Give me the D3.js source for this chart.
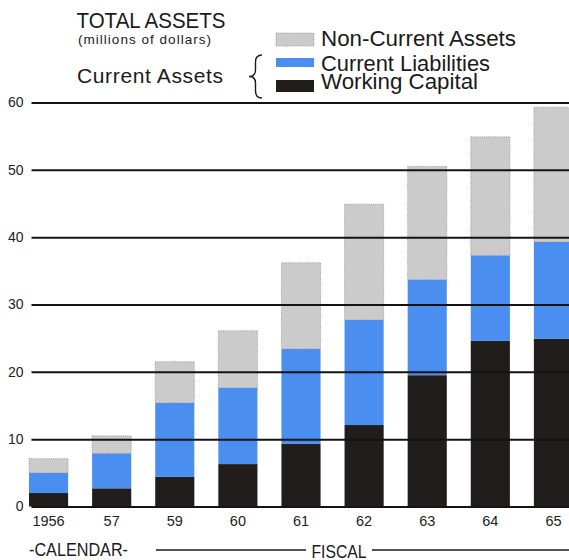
<!DOCTYPE html>
<html>
<head>
<meta charset="utf-8">
<script src="https://cdn.jsdelivr.net/npm/d3@7"></script>
<style>
  html, body { margin: 0; padding: 0; background: #fff; }
  svg { display: block; font-family: "Liberation Sans", Arial, Helvetica, sans-serif; }
</style>
</head>
<body>
<svg id="chart" width="569" height="560"></svg>
<script>
// Years shown along the bottom (1956–57 calendar, 59–65 fiscal)
const years = ["1956", "57", "59", "60", "61", "62", "63", "64", "65"];
// Millions of dollars, stacked from the baseline up
const workingCapital     = [2.0, 2.7, 4.4, 6.3, 9.3, 12.1, 19.5, 24.6, 24.9];
const currentLiabilities = [3.0, 5.2, 11.0, 11.3, 14.1, 15.6, 14.2, 12.7, 14.4];
const nonCurrentAssets   = [2.1, 2.6, 6.1, 8.5, 12.8, 17.2, 16.8, 17.6, 20.0];
const yTicks = [0, 10, 20, 30, 40, 50, 60];

const seriesKeys = ["workingCapital", "currentLiabilities", "nonCurrentAssets"];
const seriesLabels = {
  nonCurrentAssets: "Non-Current Assets",
  currentLiabilities: "Current Liabilities",
  workingCapital: "Working Capital"
};
const colors = {
  workingCapital: "#211d1d",
  currentLiabilities: "#4a8ef0",
  nonCurrentAssets: "#cbcbcb"
};

const rows = years.map((y, i) => ({
  year: y,
  workingCapital: workingCapital[i],
  currentLiabilities: currentLiabilities[i],
  nonCurrentAssets: nonCurrentAssets[i]
}));

const svg = d3.select("#chart");

const x = d3.scaleBand()
  .domain(years)
  .range([17, 585])
  .paddingInner(0.38)
  .paddingOuter(0.19);

const y = d3.scaleLinear()
  .domain([0, 60])
  .range([506.5, 102.5]);

const stacked = d3.stack().keys(seriesKeys)(rows);

// Stacked bars
const layers = svg.append("g").selectAll("g")
  .data(stacked)
  .join("g")
  .attr("fill", d => colors[d.key]);

layers.selectAll("rect")
  .data(d => d.map(p => Object.assign(p, { key: d.key })))
  .join("rect")
  .attr("x", d => x(d.data.year))
  .attr("width", x.bandwidth())
  .attr("y", d => y(d[1]))
  .attr("height", d => y(d[0]) - y(d[1]))
  .attr("stroke", d => d.key === "nonCurrentAssets" ? "#8f8f8f" : "none")
  .attr("stroke-width", d => d.key === "nonCurrentAssets" ? 0.8 : 0)
  .attr("stroke-dasharray", "1,1.2");

// Horizontal rules run across the bars
const yAxis = d3.axisLeft(y)
  .tickValues(yTicks)
  .tickSize(-(569 - 31.5))
  .tickPadding(8);

const yAxisG = svg.append("g")
  .attr("transform", "translate(31.5,0)")
  .call(yAxis);
yAxisG.select(".domain").remove();
yAxisG.selectAll(".tick line")
  .attr("stroke", "#141212")
  .attr("stroke-width", 2);
yAxisG.selectAll(".tick text")
  .attr("fill", "#222")
  .attr("font-size", "14px")
  .attr("font-family", "Liberation Sans, Arial, sans-serif");

// Year labels
const xAxis = d3.axisBottom(x).tickSize(0).tickPadding(0);
const xAxisG = svg.append("g")
  .attr("transform", "translate(0,516)")
  .call(xAxis);
xAxisG.select(".domain").remove();
xAxisG.selectAll(".tick text")
  .attr("fill", "#222")
  .attr("font-size", "14.5px")
  .attr("dy", "0.71em")
  .attr("font-family", "Liberation Sans, Arial, sans-serif");

// Helper for set-width text lines
function label(xPos, yPos, size, width, str, adjust) {
  return svg.append("text")
    .attr("x", xPos).attr("y", yPos)
    .attr("font-size", size + "px")
    .attr("fill", "#1a1a1a")
    .attr("textLength", width)
    .attr("lengthAdjust", adjust || "spacingAndGlyphs")
    .text(str);
}

// Title block
label(76.5, 28, 21.5, 149, "TOTAL ASSETS");
label(78, 43.5, 13.5, 133, "(millions of dollars)", "spacing");
label(77, 83, 21, 146, "Current Assets", "spacing");

// Brace grouping the two current-asset series
svg.append("path")
  .attr("d", "M262,55 Q255.5,55 255.5,62 L255.5,70 Q255.5,76.5 249,76.5 Q255.5,76.5 255.5,83 L255.5,91 Q255.5,98 262,98")
  .attr("fill", "none")
  .attr("stroke", "#1a1a1a")
  .attr("stroke-width", 1.4);

// Legend
const legendItems = [
  { key: "nonCurrentAssets", top: 33, h: 13, base: 46, w: 195 },
  { key: "currentLiabilities", top: 58, h: 9, base: 71, w: 169 },
  { key: "workingCapital", top: 80, h: 12, base: 88.5, w: 157 }
];
const legend = svg.append("g");
legend.selectAll("rect")
  .data(legendItems)
  .join("rect")
  .attr("x", 276)
  .attr("y", d => d.top)
  .attr("width", 38)
  .attr("height", d => d.h)
  .attr("fill", d => colors[d.key])
  .attr("stroke", d => d.key === "nonCurrentAssets" ? "#8f8f8f" : "none")
  .attr("stroke-width", 0.8)
  .attr("stroke-dasharray", "1,1.2");
legendItems.forEach(d => label(321, d.base, 22.5, d.w, seriesLabels[d.key]));

// Period markers under the years
label(29, 556, 18, 99, "-CALENDAR-");
label(311.5, 557.5, 18, 55, "FISCAL");
svg.append("line")
  .attr("x1", 156).attr("x2", 306).attr("y1", 550).attr("y2", 550)
  .attr("stroke", "#1a1a1a").attr("stroke-width", 1.6);
svg.append("line")
  .attr("x1", 372).attr("x2", 569).attr("y1", 550).attr("y2", 550)
  .attr("stroke", "#1a1a1a").attr("stroke-width", 1.6);
</script>
</body>
</html>
